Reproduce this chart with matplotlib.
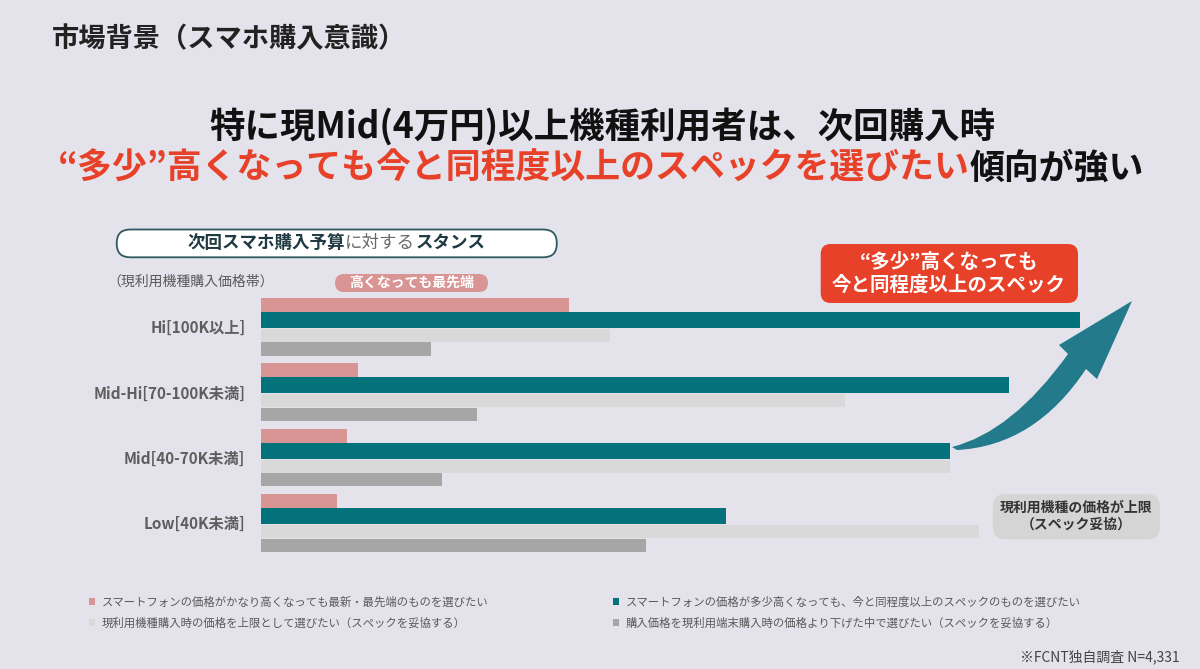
import matplotlib
matplotlib.use('Agg')
import matplotlib.pyplot as plt
from matplotlib.patches import FancyBboxPatch, PathPatch
from matplotlib.path import Path
import numpy as np

plt.rcParams['font.family'] = ['Noto Sans CJK JP', 'DejaVu Sans']

# ---------------- data ----------------
categories = ['Hi[100K以上]', 'Mid-Hi[70-100K未満]', 'Mid[40-70K未満]', 'Low[40K未満]']
latest_pct = [18.7, 5.9, 5.2, 4.6]
same_or_higher_pct = [49.8, 45.5, 41.9, 28.3]
cap_at_current_pct = [21.2, 35.5, 41.9, 43.7]
below_current_pct = [10.3, 13.1, 11.0, 23.4]
series_labels = [
    'スマートフォンの価格がかなり高くなっても最新・最先端のものを選びたい',
    'スマートフォンの価格が多少高くなっても、今と同程度以上のスペックのものを選びたい',
    '現利用機種購入時の価格を上限として選びたい（スペックを妥協する）',
    '購入価格を現利用端末購入時の価格より下げた中で選びたい（スペックを妥協する）',
]

# ---------------- style ----------------
BG = '#e4e3ec'
C_PINK = '#d99594'
C_TEAL = '#04727b'
C_LGRAY = '#d9d9d9'
C_DGRAY = '#a6a6a6'
C_RED = '#e8412a'
C_ARROW = '#237a8b'

W, H = 1200, 669
fig = plt.figure(figsize=(W / 100, H / 100), dpi=100)
fig.patch.set_facecolor(BG)
renderer = fig.canvas.get_renderer()

# ---------------- bar chart ----------------
px_per_pct = 16.43
ax_left, ax_right = 261.3, 1100.0
ax_top, ax_bottom = 290.0, 565.0
group_px = 65.4
center0 = 326.5
ax = fig.add_axes([ax_left / W, 1 - ax_bottom / H, (ax_right - ax_left) / W, (ax_bottom - ax_top) / H])
ax.set_facecolor('none')
ax.set_xlim(0, (ax_right - ax_left) / px_per_pct)
ax.set_ylim((ax_bottom - center0) / group_px, (ax_top - center0) / group_px)

y = np.arange(len(categories))
offsets = [-0.306, -0.099, 0.138, 0.344]
heights = [0.26, 0.245, 0.2, 0.2]
series = [latest_pct, same_or_higher_pct, cap_at_current_pct, below_current_pct]
colors = [C_PINK, C_TEAL, C_LGRAY, C_DGRAY]
bars = []
for vals, off, h, col, lab in zip(series, offsets, heights, colors, series_labels):
    b = ax.barh(y + off, vals, height=h, color=col, label=lab, linewidth=0)
    bars.append(b)

ax.set_yticks(y)
ax.set_yticklabels(categories, fontsize=11, fontweight='bold', color='#5e5e5e')
ax.tick_params(axis='y', length=0, pad=11.5)
ax.set_xticks([])
for s in ax.spines.values():
    s.set_visible(False)

# ---------------- legend ----------------
leg_kw = dict(frameon=False, fontsize=8.2, handlelength=0.55, handleheight=0.55,
              handletextpad=0.55, labelspacing=0.84, borderpad=0, borderaxespad=0,
              loc='upper left', labelcolor='#595959')
fig.legend(handles=[bars[0], bars[2]], labels=[series_labels[0], series_labels[2]],
           bbox_to_anchor=(89 / W, 1 - 596.5 / H), **leg_kw)
fig.legend(handles=[bars[1], bars[3]], labels=[series_labels[1], series_labels[3]],
           bbox_to_anchor=(613 / W, 1 - 596.5 / H), **leg_kw)

# ---------------- overlay (pixel coords) ----------------
ov = fig.add_axes([0, 0, 1, 1])
ov.set_xlim(0, W)
ov.set_ylim(H, 0)
ov.axis('off')
ov.set_facecolor('none')


def width_of(t):
    return t.get_window_extent(renderer).width


def fit_runs(runs, x, yc, target_w, base=20, ha='center'):
    texts = [ov.text(0, yc, s, color=c, fontsize=base, fontweight=wt, va='center', ha='left')
             for s, c, wt in runs]
    total = sum(width_of(t) for t in texts)
    size = base * target_w / total
    for t in texts:
        t.set_fontsize(size)
    widths = [width_of(t) for t in texts]
    total = sum(widths)
    if ha == 'center':
        x0 = x - total / 2
    elif ha == 'left':
        x0 = x
    else:
        x0 = x - total
    for t, w in zip(texts, widths):
        t.set_x(x0)
        x0 += w
    return texts


def runs_at(runs, x, yc, size, ha='center'):
    texts = [ov.text(0, yc, s, color=c, fontsize=size, fontweight=wt, va='center', ha='left')
             for s, c, wt in runs]
    widths = [width_of(t) for t in texts]
    total = sum(widths)
    x0 = x - total / 2 if ha == 'center' else x
    for t, w in zip(texts, widths):
        t.set_x(x0)
        x0 += w
    return texts


def rbox(x0, y0, x1, y1, r, fc, ec='none', lw=0):
    p = FancyBboxPatch((x0, y0), x1 - x0, y1 - y0,
                       boxstyle=f'round,pad=0,rounding_size={r}',
                       fc=fc, ec=ec, lw=lw)
    ov.add_patch(p)


# header
fit_runs([('市場背景（スマホ購入意識）', '#222222', 'bold')], 52, 39.5, 354, ha='left')

# main titles
fit_runs([('特に現Mid(4万円)以上機種利用者は、次回購入時', '#111111', 'bold')], 602, 127, 785)
fit_runs([('“多少”高くなっても今と同程度以上のスペックを選びたい', C_RED, 'bold'),
          ('傾向が強い', '#111111', 'bold')], 600.5, 168.5, 1086)

# subtitle box
rbox(116.7, 229.5, 556.8, 257.3, 13.5, 'white', ec='#2d5962', lw=1.3)
runs_at([('次回スマホ購入予算', '#1f3a42', 'bold'),
         ('に対する', '#666666', 'normal'),
         ('スタンス', '#1f3a42', 'bold')], 336.5, 243, 12.6)

# axis group caption
ov.text(107, 282, '（現利用機種購入価格帯）', fontsize=10, color='#595959', va='center', ha='left')

# pink pill
rbox(335, 274, 488, 292, 9, C_PINK)
ov.text(411.5, 283, '高くなっても最先端', fontsize=10, fontweight='bold', color='white',
        va='center', ha='center')

# red callout
rbox(820.7, 244, 1078, 303, 10, C_RED)
ov.text(949, 262, '“多少”高くなっても', fontsize=14, fontweight='bold', color='white',
        va='center', ha='center')
ov.text(949, 285.5, '今と同程度以上のスペック', fontsize=14, fontweight='bold', color='white',
        va='center', ha='center')

# gray callout
rbox(992.7, 494, 1160, 539.3, 13, '#d5d5d5')
ov.text(1076.5, 507.5, '現利用機種の価格が上限', fontsize=10, fontweight='bold', color='#333333',
        va='center', ha='center')
ov.text(1076.5, 524.5, '（スペック妥協）', fontsize=10, fontweight='bold', color='#333333',
        va='center', ha='center')

# curved arrow
verts = [(952, 447), (1012, 432), (1068, 354), (1059, 345), (1132, 301),
         (1097, 379), (1086, 369), (1035, 446), (957, 450), (952, 447)]
codes = [Path.MOVETO, Path.CURVE3, Path.CURVE3, Path.LINETO, Path.LINETO,
         Path.LINETO, Path.LINETO, Path.CURVE3, Path.CURVE3, Path.CLOSEPOLY]
ov.add_patch(PathPatch(Path(verts, codes), fc=C_ARROW, ec='none'))

# footnote
ov.text(1180, 657, '※FCNT独自調査 N=4,331', fontsize=10, color='#444444', va='center', ha='right')

fig.savefig('out.png', dpi=100, facecolor=BG)
